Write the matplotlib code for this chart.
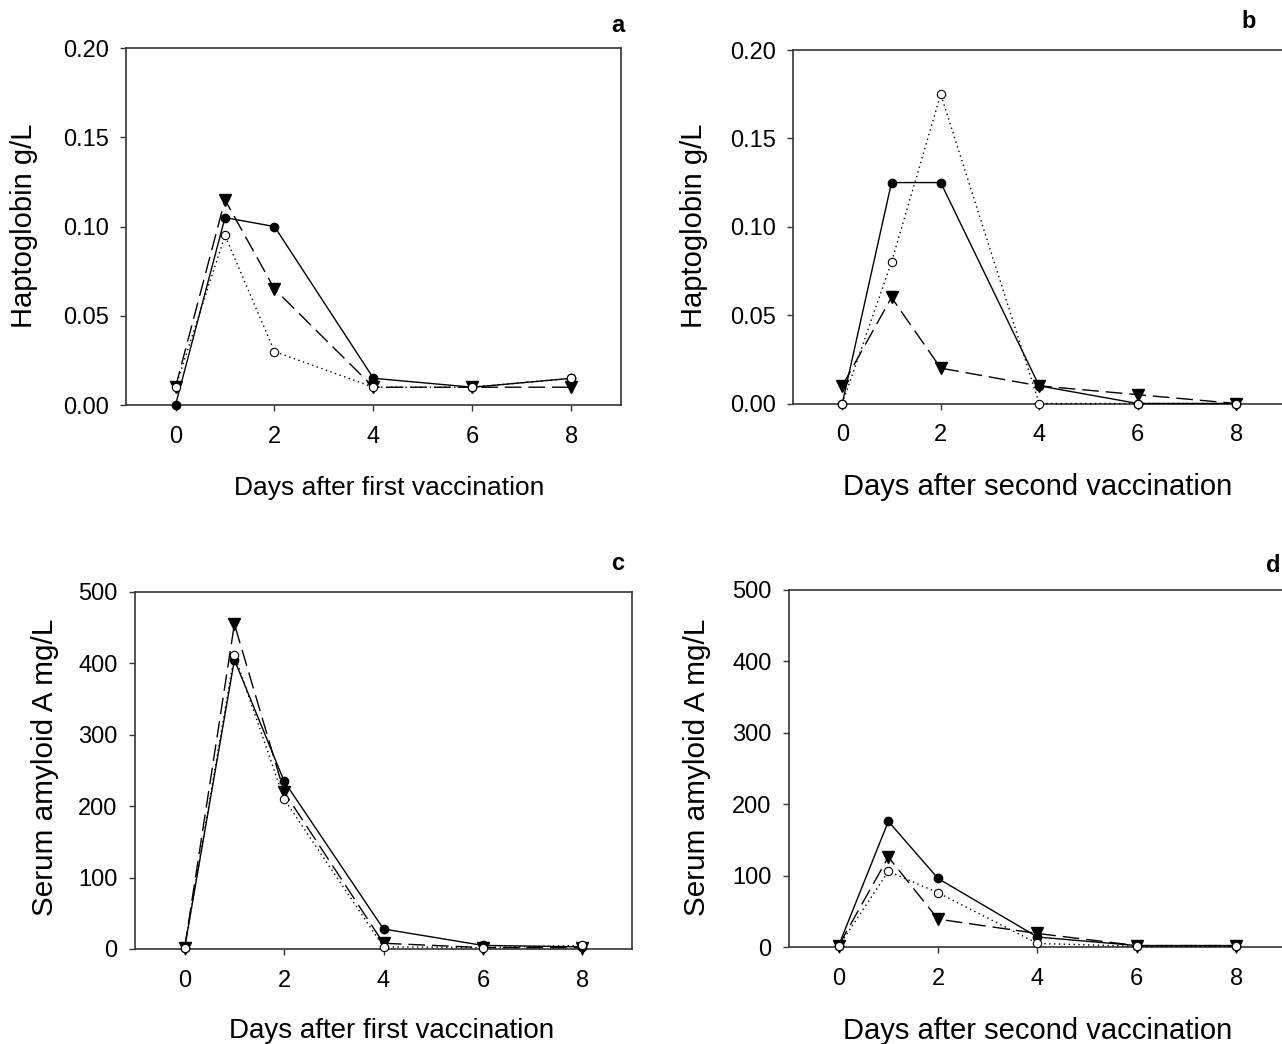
import matplotlib
matplotlib.use("Agg")
import matplotlib.pyplot as plt

plt.rcParams['font.family'] = ['Liberation Sans', 'DejaVu Sans']

days = [0, 1, 2, 4, 6, 8]

# haptoglobin (g/L)
hp1_filled = [0.0, 0.105, 0.10, 0.015, 0.01, 0.015]
hp1_open = [0.01, 0.095, 0.03, 0.01, 0.01, 0.015]
hp1_tri = [0.01, 0.115, 0.065, 0.01, 0.01, 0.01]

hp2_filled = [0.0, 0.125, 0.125, 0.01, 0.0, 0.0]
hp2_open = [0.0, 0.08, 0.175, 0.0, 0.0, 0.0]
hp2_tri = [0.01, 0.06, 0.02, 0.01, 0.005, 0.0]

# serum amyloid A (mg/L)
saa1_filled = [2, 405, 235, 28, 5, 3]
saa1_open = [2, 412, 210, 3, 2, 5]
saa1_tri = [2, 455, 220, 8, 2, 2]

saa2_filled = [2, 176, 96, 14, 2, 2]
saa2_open = [1, 106, 76, 5, 1, 1]
saa2_tri = [2, 126, 39, 19, 2, 2]

xticks = [0, 2, 4, 6, 8]
hp_ticks = [0.0, 0.05, 0.10, 0.15, 0.20]
saa_ticks = [0, 100, 200, 300, 400, 500]

W, H = 1282, 1044
fig = plt.figure(figsize=(W / 100, H / 100), dpi=100)

# positions in pixels of the reference: axes rect, letter, xlabel centre, ylabel centre
panels = [
    dict(rect=[0.0983, 0.612, 0.386, 0.342], data=(hp1_filled, hp1_open, hp1_tri),
         ylab='Haptoglobin g/L', xlab='Days after first vaccination',
         yticks=hp_ticks, ylim=(0, 0.2), fmt='{:.2f}', letter='a', lpos=(618, 25),
         xlpos=(389, 488), xlsize=19, ylpos=(24, 226), ylsize=21),
    dict(rect=[0.6186, 0.6135, 0.384, 0.3386], data=(hp2_filled, hp2_open, hp2_tri),
         ylab='Haptoglobin g/L', xlab='Days after second vaccination',
         yticks=hp_ticks, ylim=(0, 0.2), fmt='{:.2f}', letter='b', lpos=(1249, 22),
         xlpos=(1038, 487), xlsize=21, ylpos=(694, 226), ylsize=21),
    dict(rect=[0.1053, 0.091, 0.3877, 0.342], data=(saa1_filled, saa1_open, saa1_tri),
         ylab='Serum amyloid A mg/L', xlab='Days after first vaccination',
         yticks=saa_ticks, ylim=(0, 500), fmt='{:d}', letter='c', lpos=(618, 564),
         xlpos=(392, 1031), xlsize=20, ylpos=(45, 767), ylsize=21.4),
    dict(rect=[0.6154, 0.0929, 0.3877, 0.342], data=(saa2_filled, saa2_open, saa2_tri),
         ylab='Serum amyloid A mg/L', xlab='Days after second vaccination',
         yticks=saa_ticks, ylim=(0, 500), fmt='{:d}', letter='d', lpos=(1273, 565),
         xlpos=(1038, 1031), xlsize=21, ylpos=(697, 767), ylsize=21.4),
]

for p in panels:
    ax = fig.add_axes(p['rect'])
    yf, yo, yt = p['data']
    ax.plot(days, yf, color='black', lw=1.0, ls='-', marker='o', ms=6,
            mfc='black', mec='black', zorder=3, clip_on=False)
    ax.plot(days, yt, color='black', lw=1.0, ls=(0, (12, 5)), marker='v', ms=8,
            mfc='black', mec='black', zorder=4, clip_on=False)
    ax.plot(days, yo, color='black', lw=1.0, ls=(0, (1, 2.5)), marker='o', ms=6,
            mfc='white', mec='black', mew=0.8, zorder=5, clip_on=False)

    ax.set_xlim(-1, 9)
    ax.set_ylim(*p['ylim'])
    ax.set_xticks(xticks)
    ax.set_yticks(p['yticks'])
    ax.set_yticklabels([p['fmt'].format(v) for v in p['yticks']])
    ax.tick_params(direction='out', length=4, width=1, colors='#333333',
                   labelcolor='black', labelsize=17)
    ax.tick_params(axis='y', pad=8.5)
    ax.tick_params(axis='x', pad=11)
    for sp in ax.spines.values():
        sp.set_color('#333333')
        sp.set_linewidth(1.2)

    fig.text(p['xlpos'][0] / W, 1 - p['xlpos'][1] / H, p['xlab'],
             fontsize=p['xlsize'], ha='center', va='center')
    fig.text(p['ylpos'][0] / W, 1 - p['ylpos'][1] / H, p['ylab'],
             fontsize=p['ylsize'], rotation=90, ha='center', va='center')
    fig.text(p['lpos'][0] / W, 1 - p['lpos'][1] / H, p['letter'],
             fontsize=17, fontweight='bold', ha='center', va='center')

fig.savefig('out.png', dpi=100)
